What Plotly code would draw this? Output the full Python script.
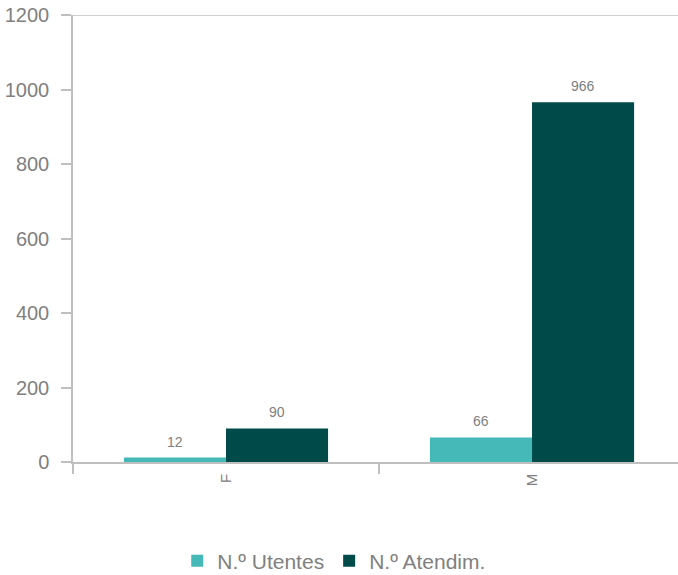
import plotly.graph_objects as go

categories = ["F", "M"]
utentes = [12, 66]
atendim = [90, 966]
series_names = ["N.º Utentes", "N.º Atendim."]
y_ticks = [0, 200, 400, 600, 800, 1000, 1200]

gray = "#808080"
axis_col = "#bfbfbf"
font_fam = "Liberation Sans, Arial, sans-serif"

fig = go.Figure()
fig.add_trace(go.Bar(x=categories, y=utentes, name=series_names[0],
                     marker=dict(color="#45b8b8", line=dict(width=0))))
fig.add_trace(go.Bar(x=categories, y=atendim, name=series_names[1],
                     marker=dict(color="#004a4a", line=dict(width=0))))

# value labels above each bar
for vals, shift in ((utentes, -51), (atendim, 51)):
    for c, v in zip(categories, vals):
        fig.add_annotation(x=c, y=v, text=str(v), showarrow=False, xshift=shift,
                           yanchor="bottom", yshift=6,
                           font=dict(size=14, color=gray))

fig.add_shape(type="line", xref="paper", yref="y", x0=0, x1=1, y0=1200, y1=1200,
              line=dict(color=axis_col, width=1.5), layer="below")

fig.update_layout(
    width=678, height=575,
    margin=dict(l=73, r=0, t=15, b=113),
    paper_bgcolor="white", plot_bgcolor="white",
    barmode="group", bargap=0.333, bargroupgap=0,
    font=dict(family=font_fam, color=gray),
    showlegend=True,
    legend=dict(orientation="h", xref="container", x=0.493, xanchor="center",
                yref="container", y=0.0243, yanchor="middle",
                font=dict(size=21, color=gray), itemwidth=30, traceorder="normal",
                tracegroupgap=0),
    xaxis=dict(range=[-0.5, 1.477], showline=True, linecolor=axis_col, linewidth=1.5,
               ticks="outside", tickson="boundaries", ticklen=10, tickcolor=axis_col,
               tickwidth=1.5, tickangle=-90, tickfont=dict(size=15, color=gray),
               ticklabelstandoff=4,
               showgrid=False, zeroline=False),
    yaxis=dict(range=[0, 1200], tickvals=y_ticks, showline=True, linecolor=axis_col,
               linewidth=1.5, ticks="outside", ticklen=10, tickcolor=axis_col, tickwidth=1.5,
               tickfont=dict(size=20, color=gray), ticklabelstandoff=8,
               showgrid=False, zeroline=False),
)

fig.write_html("out.html", config={"displayModeBar": False},
               post_script="document.body.style.margin='0';")
